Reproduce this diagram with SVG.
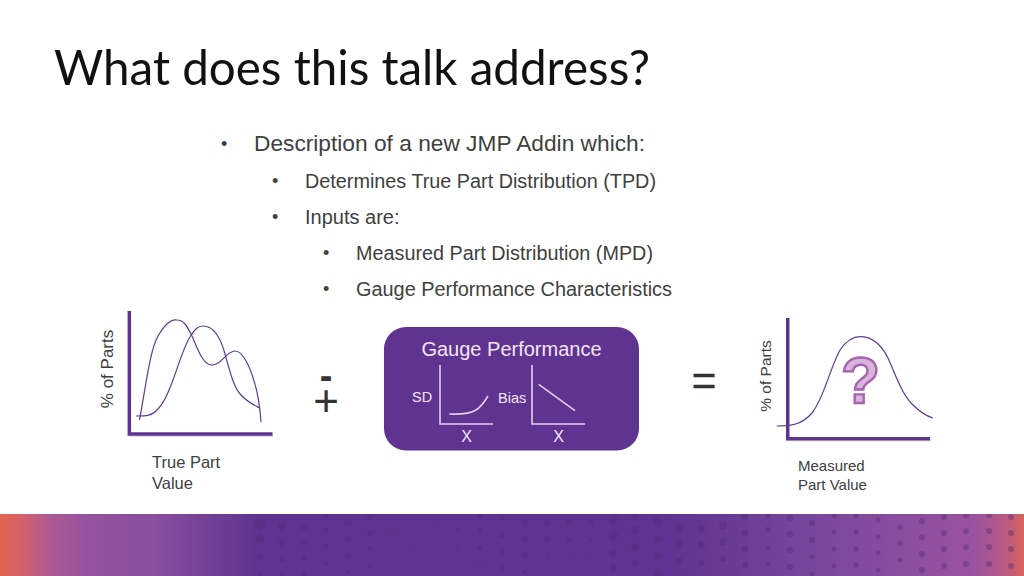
<svg xmlns="http://www.w3.org/2000/svg" width="1024" height="576" viewBox="0 0 1024 576">
<style>
text{font-family:"Liberation Sans",Arial,sans-serif;fill:#404040}
.title{font-family:Lato,"Open Sans",sans-serif;font-size:49px;fill:#111}
.b1{font-size:22px}
.b2{font-size:20px}
.bu{font-size:18px}
.axis{fill:none;stroke:#5f3390;stroke-width:3.400}
.curve{fill:none;stroke:#5a3d96;stroke-width:1.200}
.inner{fill:none;stroke:#e8cdf0;stroke-width:1.600}
.dots circle{fill:#4f2a78;opacity:.4}
.shadow{fill:none;stroke:#999;stroke-width:3;opacity:.3}
</style>
<defs>
<linearGradient id="band" x1="0" x2="1" y1="0" y2="0">
<stop offset="0" stop-color="#e2644d"/>
<stop offset=".02" stop-color="#d4616a"/>
<stop offset=".05" stop-color="#ad5a93"/>
<stop offset=".085" stop-color="#95529f"/>
<stop offset=".15" stop-color="#8a4f9e"/>
<stop offset=".25" stop-color="#5f3391"/>
<stop offset=".65" stop-color="#5f3391"/>
<stop offset=".8" stop-color="#7a479e"/>
<stop offset=".95" stop-color="#9a529f"/>
<stop offset=".98" stop-color="#b85a85"/>
<stop offset="1" stop-color="#d9625c"/>
</linearGradient>
<clipPath id="bandclip"><rect y="514" width="1024" height="62"/></clipPath>
</defs>
<rect width="1024" height="576" fill="#fff"/>
<text class="title" x="54" y="85" textLength="596" lengthAdjust="spacingAndGlyphs">What does this talk address?</text>

<g id="bullets">
<text class="bu" x="221" y="150">•</text>
<text class="b1" x="254" y="151" textLength="391" lengthAdjust="spacingAndGlyphs">Description of a new JMP Addin which:</text>
<text class="bu" x="272" y="187">•</text>
<text class="b2" x="305" y="188" textLength="351" lengthAdjust="spacingAndGlyphs">Determines True Part Distribution (TPD)</text>
<text class="bu" x="272" y="223">•</text>
<text class="b2" x="305" y="224">Inputs are:</text>
<text class="bu" x="323" y="259">•</text>
<text class="b2" x="356" y="260" textLength="297" lengthAdjust="spacingAndGlyphs">Measured Part Distribution (MPD)</text>
<text class="bu" x="323" y="295">•</text>
<text class="b2" x="356" y="296" textLength="316" lengthAdjust="spacingAndGlyphs">Gauge Performance Characteristics</text>
</g>

<g id="true-part-chart">
<path class="shadow" d="M130 313V435.500H273"/>
<path class="axis" d="M129.300 311V434H272.500"/>
<path class="curve" d="M139.500 420C146 385 150 350 158 336C165 324 172 319 177 320C184 320 187 326 192 336C198 350 203 364 211 365C221 366 226 351 235 351C243 351 250 367 254 381C258 393 260 408 261 422"/>
<path class="curve" d="M136 416C146 416 152 416 158 409C172 394 180 352 190 337C195 329 198 326 203 326C214 326 221 339 225 354C230 372 234 388 241 395C247 402 254 405 260 408"/>
<text transform="translate(113 369) rotate(-90)" text-anchor="middle" font-size="17">% of Parts</text>
<text x="152" y="468" font-size="16.500">True Part</text>
<text x="152" y="489" font-size="16.500">Value</text>
</g>

<g id="minus-plus">
<text text-anchor="middle" style="fill:#333"><tspan x="326" y="389" font-size="38" font-weight="bold">-</tspan><tspan x="326" y="416" font-size="44">+</tspan></text>
</g>

<g id="gauge-performance">
<rect x="384" y="327" width="255" height="123.500" rx="22" fill="#5f3390"/>
<text style="fill:#f3e6f6" x="511.500" y="356" text-anchor="middle" font-size="20">Gauge Performance</text>
<path class="inner" d="M440 365V424H493"/>
<path class="inner" d="M449.300 414C462 414.500 470 414 476 410C481 407 485 401 488 396"/>
<path class="inner" d="M532 365V424H585"/>
<path class="inner" d="M538.700 384.300L575 410.700"/>
<text style="fill:#f3e6f6" x="412" y="402" font-size="14.500">SD</text>
<text style="fill:#f3e6f6" x="498" y="403" font-size="14.500">Bias</text>
<text style="fill:#f3e6f6" x="466.500" y="442" text-anchor="middle" font-size="16">X</text>
<text style="fill:#f3e6f6" x="558.500" y="442" text-anchor="middle" font-size="16">X</text>
</g>

<g id="equals">
<text x="704" y="395" text-anchor="middle" font-size="42" style="fill:#333;stroke:#333;stroke-width:.5">=</text>
</g>

<g id="measured-chart">
<path class="shadow" d="M788.500 318V440H931"/>
<path class="axis" d="M787.700 318V438.700H930"/>
<path class="curve" d="M776.700 426C790 426 802 425 812 413C824 398 830 368 840 350C847 340 853 336.700 860 336.700C870 336.700 880 342 888 358C896 376 902 394 912 404C919 411 926 416 933 418"/>
<text transform="translate(771 376) rotate(-90)" text-anchor="middle" font-size="15.500">% of Parts</text>
<text x="798" y="471" font-size="15">Measured</text>
<text x="798" y="490" font-size="15">Part Value</text>
<text x="860.500" y="403" text-anchor="middle" font-size="64" font-weight="bold" style="fill:#d8b4dc;stroke:#a862b0;stroke-width:2.400">?</text>
</g>

<g id="footer">
<rect y="514" width="1024" height="62" fill="url(#band)"/>
<g class="dots" clip-path="url(#bandclip)">
<circle cx="260" cy="524" r="5.500"/><circle cx="260" cy="539" r="4.500"/><circle cx="260" cy="557" r="3"/><circle cx="260" cy="574" r="2.500"/>
<circle cx="282" cy="527" r="4"/><circle cx="282" cy="543" r="3.500"/><circle cx="282" cy="559" r="3"/><circle cx="282" cy="575" r="2"/>
<circle cx="304" cy="526" r="4"/><circle cx="304" cy="542" r="3.500"/><circle cx="304" cy="558" r="2.500"/><circle cx="304" cy="574" r="2.500"/>
<circle cx="326" cy="515" r="3"/><circle cx="326" cy="530" r="3"/><circle cx="326" cy="546" r="3"/><circle cx="326" cy="563" r="2"/>
<circle cx="348" cy="522" r="4"/><circle cx="348" cy="539" r="3"/><circle cx="348" cy="556" r="2.500"/><circle cx="348" cy="572" r="2"/>
<circle cx="370" cy="517" r="3"/><circle cx="370" cy="533" r="3"/><circle cx="370" cy="549" r="2"/><circle cx="370" cy="566" r="1.500"/>
<circle cx="392" cy="530" r="1.500"/><circle cx="392" cy="545" r="1"/><circle cx="414" cy="528" r="1"/><circle cx="414" cy="546" r="1"/><circle cx="437" cy="527" r="1"/>
<circle cx="458" cy="529" r="1.500"/><circle cx="458" cy="546" r="1.500"/>
<circle cx="480" cy="516" r="3"/><circle cx="480" cy="531" r="3"/><circle cx="480" cy="548" r="2.500"/><circle cx="480" cy="565" r="1.500"/>
<circle cx="502" cy="518" r="3"/><circle cx="502" cy="535" r="3"/><circle cx="502" cy="552" r="3"/><circle cx="502" cy="568" r="2.500"/>
<circle cx="525" cy="522" r="3.500"/><circle cx="525" cy="539" r="3"/><circle cx="525" cy="555" r="2.500"/><circle cx="525" cy="572" r="2"/>
<circle cx="547" cy="523" r="3"/><circle cx="547" cy="539" r="2.500"/><circle cx="547" cy="557" r="1.500"/>
<circle cx="569" cy="523" r="3"/><circle cx="569" cy="540" r="2.500"/><circle cx="569" cy="557" r="1"/>
<circle cx="591" cy="522" r="2.500"/><circle cx="591" cy="539" r="2"/><circle cx="591" cy="555" r="1"/>
<circle cx="613" cy="520" r="4.500"/><circle cx="613" cy="536" r="4.500"/><circle cx="613" cy="553" r="4"/><circle cx="613" cy="568" r="3.500"/>
<circle cx="635" cy="516" r="3.500"/><circle cx="635" cy="530" r="4"/><circle cx="635" cy="547" r="4"/><circle cx="635" cy="563" r="3.500"/>
<circle cx="657" cy="522" r="4.500"/><circle cx="657" cy="539" r="4"/><circle cx="657" cy="556" r="3.500"/><circle cx="657" cy="573" r="3.500"/>
<circle cx="679" cy="528" r="4.500"/><circle cx="679" cy="544" r="4"/><circle cx="679" cy="561" r="3.500"/>
<circle cx="701" cy="529" r="4"/><circle cx="701" cy="545" r="3.500"/><circle cx="701" cy="563" r="3"/>
<circle cx="723" cy="526" r="4"/><circle cx="723" cy="542" r="3.500"/><circle cx="723" cy="559" r="3"/>
<circle cx="745" cy="517" r="3.500"/><circle cx="745" cy="533" r="3.500"/><circle cx="745" cy="549" r="3.500"/><circle cx="745" cy="565" r="3"/>
<circle cx="768" cy="515" r="3"/><circle cx="768" cy="530" r="3"/><circle cx="768" cy="548" r="2.500"/><circle cx="768" cy="564" r="2.500"/>
<circle cx="790" cy="518" r="3"/><circle cx="790" cy="534" r="3"/><circle cx="790" cy="550" r="3"/><circle cx="790" cy="567" r="3"/>
<circle cx="812" cy="523" r="3"/><circle cx="812" cy="540" r="3"/><circle cx="812" cy="557" r="2.500"/><circle cx="812" cy="574" r="2.500"/>
<circle cx="834" cy="516" r="2.500"/><circle cx="834" cy="532" r="2.500"/><circle cx="834" cy="549" r="2.500"/><circle cx="834" cy="566" r="2.500"/>
<circle cx="856" cy="516" r="2.500"/><circle cx="856" cy="532" r="2.500"/><circle cx="856" cy="549" r="2.500"/><circle cx="856" cy="565" r="2.500"/>
<circle cx="878" cy="520" r="2.500"/><circle cx="878" cy="537" r="2.500"/><circle cx="878" cy="553" r="2.500"/><circle cx="878" cy="570" r="2.500"/>
<circle cx="900" cy="527" r="2.500"/><circle cx="900" cy="543" r="2.500"/><circle cx="900" cy="560" r="2.500"/>
<circle cx="922" cy="521" r="3"/><circle cx="922" cy="537" r="3"/><circle cx="922" cy="554" r="3"/><circle cx="922" cy="570" r="3"/>
<circle cx="944" cy="517" r="3"/><circle cx="944" cy="533" r="3"/><circle cx="944" cy="549" r="3"/><circle cx="944" cy="566" r="3"/>
<circle cx="966" cy="515" r="3"/><circle cx="966" cy="531" r="3"/><circle cx="966" cy="547" r="3"/><circle cx="966" cy="564" r="3"/>
<circle cx="989" cy="515" r="3"/><circle cx="989" cy="531" r="3"/><circle cx="989" cy="547" r="3"/><circle cx="989" cy="564" r="3"/>
<circle cx="1011" cy="517" r="3"/><circle cx="1011" cy="533" r="3"/><circle cx="1011" cy="549" r="3"/><circle cx="1011" cy="566" r="3"/>
</g>
</g>
</svg>
